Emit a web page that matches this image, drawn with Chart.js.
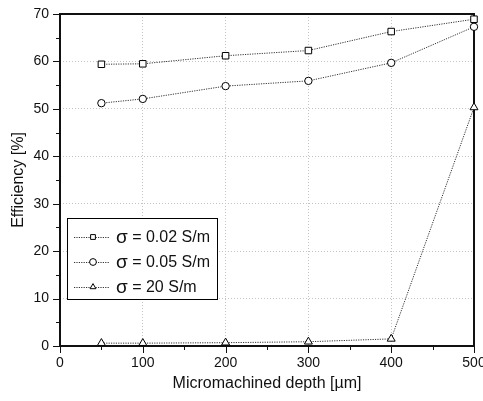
<!DOCTYPE html>
<html>
<head>
<meta charset="utf-8">
<script src="https://cdn.jsdelivr.net/npm/chart.js@4.4.0/dist/chart.umd.min.js"></script>
<style>
  html, body { margin: 0; padding: 0; background: #fff; }
</style>
</head>
<body>
<canvas id="eff" width="483" height="401"></canvas>
<script>
// values
const depths = [50, 100, 200, 300, 400, 500];
const sigma002 = [59.4, 59.5, 61.2, 62.3, 66.3, 68.9];
const sigma005 = [51.2, 52.1, 54.8, 55.9, 59.7, 67.3];
const sigma20 = [0.6, 0.6, 0.7, 0.9, 1.5, 50.3];
const seriesLabels = ["σ = 0.02 S/m", "σ = 0.05 S/m", "σ = 20 S/m"];
const markers = ["rect", "circle", "triangle"];

const FONT = '"Liberation Sans", Arial, sans-serif';

function pts(ys) {
  return depths.map((d, i) => ({ x: d, y: ys[i] }));
}

// axis frame + outward major/minor ticks
const frame = {
  id: "frame",
  beforeDatasetsDraw(chart) {
    const ctx = chart.ctx;
    const a = chart.chartArea;
    const xs = chart.scales.x, ys = chart.scales.y;
    ctx.save();
    ctx.strokeStyle = "#111";
    ctx.lineWidth = 1;
    ctx.beginPath();
    for (let v = 0; v <= 500; v += 50) {
      const px = Math.round(xs.getPixelForValue(v)) + 0.5;
      ctx.moveTo(px, a.bottom);
      ctx.lineTo(px, a.bottom + (v % 100 === 0 ? 7 : 4));
    }
    for (let v = 0; v <= 70; v += 5) {
      const py = Math.round(ys.getPixelForValue(v)) + 0.5;
      ctx.moveTo(a.left, py);
      ctx.lineTo(a.left - (v % 10 === 0 ? 7 : 4), py);
    }
    ctx.stroke();
    ctx.lineWidth = 2;
    ctx.strokeRect(a.left, a.top, a.right - a.left, a.bottom - a.top);
    ctx.restore();
  }
};

// boxed legend in lower left of the plot
const boxLegend = {
  id: "boxLegend",
  afterDraw(chart) {
    const ctx = chart.ctx;
    const a = chart.chartArea;
    const x0 = a.left + 7, y0 = a.top + 204, w = 150, h = 81;
    ctx.save();
    ctx.fillStyle = "#fff";
    ctx.fillRect(x0, y0, w, h);
    ctx.strokeStyle = "#000";
    ctx.lineWidth = 1;
    ctx.strokeRect(x0 + 0.5, y0 + 0.5, w, h);
    chart.data.datasets.forEach((ds, i) => {
      const y = y0 + 19 + i * 25;
      ctx.strokeStyle = ds.borderColor;
      ctx.setLineDash([1.2, 1.2]);
      ctx.beginPath();
      ctx.moveTo(x0 + 7, y + 0.5);
      ctx.lineTo(x0 + 43, y + 0.5);
      ctx.stroke();
      ctx.setLineDash([]);
      ctx.fillStyle = "#fff";
      ctx.strokeStyle = "#000";
      Chart.helpers.drawPoint(ctx, { pointStyle: ds.pointStyle, radius: 3.4, borderWidth: 1, rotation: 0 }, x0 + 26, y);
      ctx.fillStyle = "#111";
      ctx.textBaseline = "middle";
      // sigma a touch larger, like the symbol font in the original
      const sym = ds.label.slice(0, 1), rest = ds.label.slice(1);
      ctx.font = "19px " + FONT;
      ctx.fillText(sym, x0 + 49, y + 1);
      const sw = ctx.measureText(sym).width;
      ctx.font = "16px " + FONT;
      ctx.fillText(rest, x0 + 49 + sw, y + 1);
    });
    ctx.restore();
  }
};

const sets = [sigma002, sigma005, sigma20].map((ys, i) => ({
  label: seriesLabels[i],
  data: pts(ys),
  borderColor: "#333",
  borderWidth: 1,
  borderDash: [1.2, 1.2],
  pointStyle: markers[i],
  pointRadius: i === 0 ? 4.6 : (i === 1 ? 3.7 : 4.6),
  pointBorderWidth: 1,
  pointBorderColor: "#000",
  pointBackgroundColor: "#fff",
  tension: 0,
  clip: false
}));

new Chart(document.getElementById("eff"), {
  type: "line",
  data: { datasets: sets },
  options: {
    responsive: false,
    animation: false,
    layout: { padding: { top: 14, right: 9, left: 0, bottom: 0 } },
    plugins: {
      legend: { display: false },
      tooltip: { enabled: false }
    },
    scales: {
      x: {
        type: "linear",
        min: 0,
        max: 500,
        afterFit(s) { s.height = 55; s.paddingLeft = 0; s.paddingRight = 0; },
        ticks: {
          stepSize: 50,
          autoSkip: false,
          maxRotation: 0,
          padding: 9,
          color: "#111",
          font: { family: FONT, size: 14 },
          callback: (v) => (v % 100 === 0 ? v : "")
        },
        grid: {
          drawTicks: false,
          lineWidth: 1,
          color: (c) => (c.tick && c.tick.value % 100 === 0 && c.tick.value > 0 && c.tick.value < 500 ? "#c4c4c4" : "rgba(0,0,0,0)")
        },
        border: { display: false, dash: [1, 2] },
        title: {
          display: true,
          text: "Micromachined depth [µm]",
          color: "#111",
          font: { family: FONT, size: 16 },
          padding: 8
        }
      },
      y: {
        min: 0,
        max: 70,
        afterFit(s) { s.width = 60; s.paddingTop = 0; s.paddingBottom = 0; },
        ticks: {
          stepSize: 5,
          autoSkip: false,
          padding: 11,
          color: "#111",
          font: { family: FONT, size: 14 },
          callback: (v) => (v % 10 === 0 ? v : "")
        },
        grid: {
          drawTicks: false,
          lineWidth: 1,
          color: (c) => (c.tick && c.tick.value % 10 === 0 && c.tick.value > 0 && c.tick.value < 70 ? "#c4c4c4" : "rgba(0,0,0,0)")
        },
        border: { display: false, dash: [1, 2] },
        title: {
          display: true,
          text: "Efficiency [%]",
          color: "#111",
          font: { family: FONT, size: 16 },
          padding: 9
        }
      }
    }
  },
  plugins: [frame, boxLegend]
});
</script>
</body>
</html>
